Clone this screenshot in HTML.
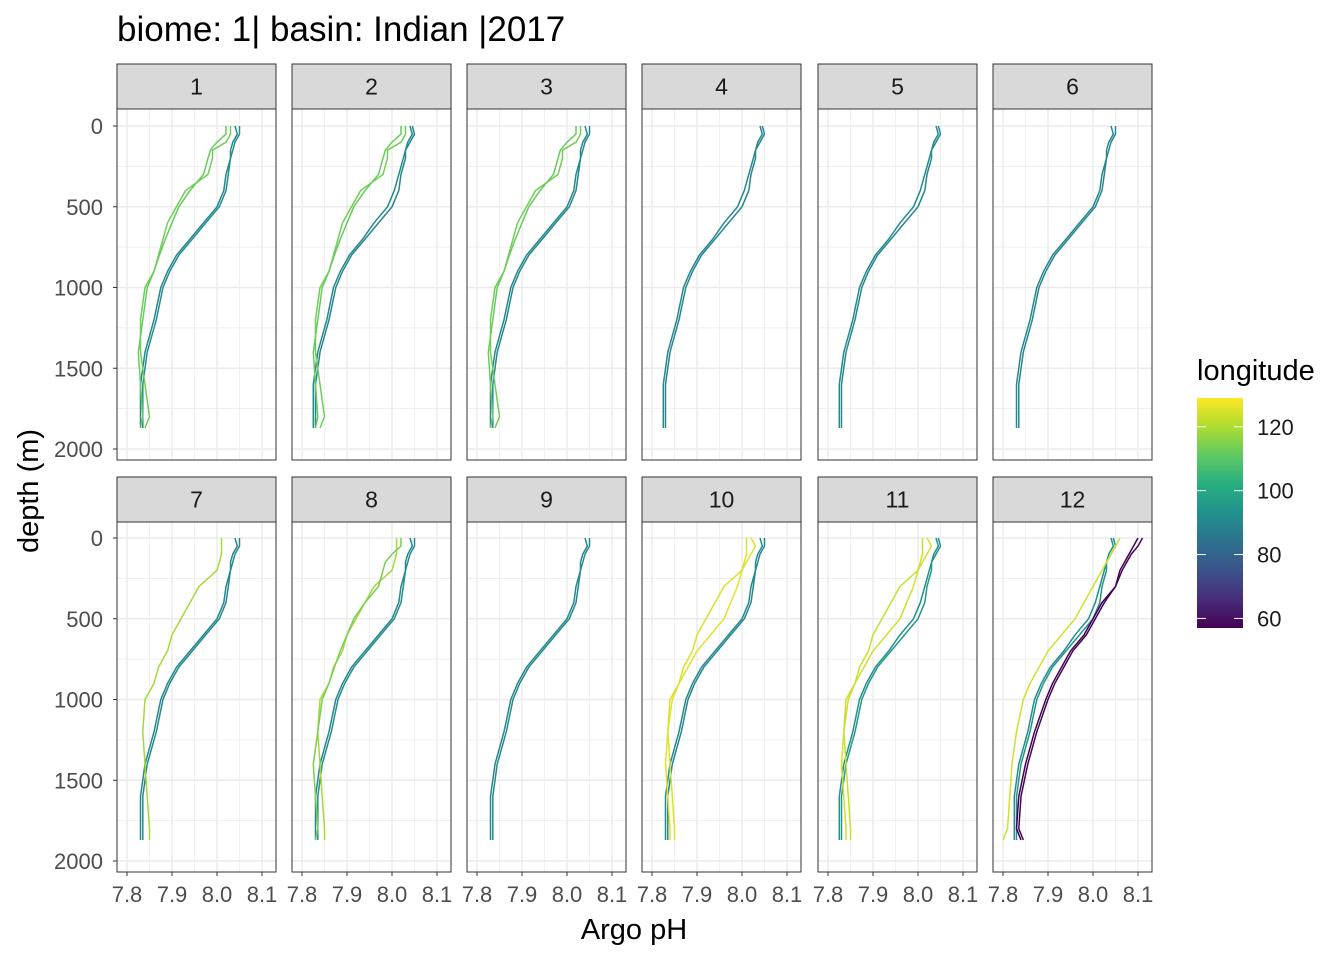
<!DOCTYPE html>
<html><head><meta charset="utf-8">
<style>
body{margin:0;background:#fff;}
svg text{font-family:"Liberation Sans",sans-serif;}
</style></head>
<body>
<svg id="chart" width="1344" height="960" viewBox="0 0 1344 960" xmlns="http://www.w3.org/2000/svg">
<defs>
<linearGradient id="vir" x1="0" y1="1" x2="0" y2="0">
<stop offset="0" stop-color="#440154"/><stop offset="0.125" stop-color="#472d7b"/><stop offset="0.25" stop-color="#3b528b"/><stop offset="0.375" stop-color="#2c728e"/><stop offset="0.5" stop-color="#21918c"/><stop offset="0.625" stop-color="#28ae80"/><stop offset="0.75" stop-color="#5ec962"/><stop offset="0.875" stop-color="#addc30"/><stop offset="1" stop-color="#fde725"/>
</linearGradient>
</defs>
<text x="117" y="41" font-size="35" fill="#000">biome: 1| basin: Indian |2017</text>
<text x="634" y="939" font-size="29" text-anchor="middle" fill="#000">Argo pH</text>
<text transform="translate(38,491) rotate(-90)" font-size="29" text-anchor="middle" fill="#000">depth (m)</text>
<g id="panels"></g>
<g>
<text x="1197" y="380" font-size="29" fill="#000">longitude</text>
<rect x="1197" y="398" width="46" height="230" fill="url(#vir)"/>
<g id="legticks"></g>
</g>
</svg>
<script>
const depthLevels=[0,50,100,150,200,300,400,500,600,700,800,900,1000,1200,1400,1600,1800,1870];
const T1=[8.04,8.045,8.035,8.03,8.03,8.02,8.015,8.0,7.97,7.94,7.91,7.89,7.875,7.86,7.84,7.83,7.83,7.83];
const T2=[8.05,8.05,8.04,8.035,8.03,8.025,8.02,8.005,7.975,7.945,7.915,7.895,7.88,7.865,7.845,7.835,7.835,7.835];
const T3=[8.045,8.05,8.04,8.03,8.025,8.015,8.005,7.99,7.96,7.935,7.905,7.885,7.87,7.855,7.835,7.825,7.825,7.825];
const G1=[8.03,8.03,8.02,7.99,7.99,7.98,7.93,7.91,7.89,7.88,7.87,7.86,7.84,7.83,7.83,7.84,7.85,7.84];
const G2=[8.02,8.02,8.0,7.985,7.98,7.97,7.94,7.915,7.9,7.885,7.872,7.86,7.845,7.835,7.825,7.83,7.835,7.83];
const Y1=[8.01,8.01,8.01,8.005,8.0,7.96,7.94,7.92,7.9,7.89,7.87,7.86,7.84,7.835,7.84,7.845,7.85,7.85];
const Y2=[8.02,8.03,8.02,8.01,8.0,7.99,7.975,7.96,7.93,7.9,7.88,7.86,7.845,7.835,7.83,7.835,7.84,7.84];
const Y3=[8.06,8.05,8.04,8.03,8.02,8.0,7.98,7.96,7.93,7.9,7.88,7.86,7.845,7.83,7.82,7.815,7.81,7.80];
const P1=[8.1,8.09,8.08,8.07,8.06,8.05,8.02,8.0,7.98,7.95,7.93,7.91,7.895,7.87,7.85,7.835,7.83,7.84];
const P2=[8.11,8.1,8.085,8.075,8.065,8.05,8.025,8.005,7.985,7.955,7.935,7.915,7.9,7.875,7.855,7.84,7.835,7.845];
const panelProfiles=[
 [["T1",90],["T2",92],["G1",113],["G2",112]],
 [["T1",90],["T3",91],["G1",113],["G2",112]],
 [["T1",90],["T2",91],["G2",112],["G1",113]],
 [["T1",90],["T3",90]],
 [["T1",90],["T3",91]],
 [["T1",90],["T2",90]],
 [["T1",90],["T2",91],["Y1",119]],
 [["T1",90],["T2",92],["Y1",119],["G2",114]],
 [["T1",90],["T2",91]],
 [["T1",91],["T2",90],["Y2",126],["Y1",125]],
 [["T1",95],["T3",93],["Y2",124],["Y1",123]],
 [["T3",92],["T1",94],["Y3",124],["P1",57],["P2",58]]
];
const series={T1,T2,T3,G1,G2,Y1,Y2,Y3,P1,P2};
const xTicks=[7.8,7.9,8.0,8.1];
const yTicks=[0,500,1000,1500,2000];
const legendTicks=[60,80,100,120];
const lonMin=57,lonMax=129;

const NS="http://www.w3.org/2000/svg";
function el(tag,attrs,parent){const e=document.createElementNS(NS,tag);for(const k in attrs)e.setAttribute(k,attrs[k]);parent.appendChild(e);return e;}
const vir=["#440154","#472d7b","#3b528b","#2c728e","#21918c","#28ae80","#5ec962","#addc30","#fde725"];
function hex(h){return [1,3,5].map(i=>parseInt(h.substr(i,2),16));}
function color(lon){let t=Math.max(0,Math.min(1,(lon-lonMin)/(lonMax-lonMin)))*8;let i=Math.min(7,Math.floor(t)),f=t-i;const a=hex(vir[i]),b=hex(vir[i+1]);return "rgb("+a.map((v,k)=>Math.round(v+(b[k]-v)*f)).join(",")+")";}
const colX=[117,292,467,642,818,993],pw=159;
const rows=[{st:64,top:109,bot:460,y0:126},{st:477,top:522,bot:872,y0:538}];
const pxPerM=0.1615,pxPerPh=450;
const g=document.getElementById("panels");
panelProfiles.forEach((profs,pi)=>{
 const r=rows[Math.floor(pi/6)],px=colX[pi%6];
 const xs=v=>px+10+(v-7.8)*pxPerPh, ys=d=>r.y0+d*pxPerM;
 const pg=el("g",{},g);
 
 
 const strip=el("rect",{x:px,y:r.st,width:pw,height:r.top-r.st,fill:"#d9d9d9",stroke:"#333","stroke-width":1},pg);
 
 
 const st=el("text",{x:px+pw/2,y:(r.st+r.top)/2+8,"font-size":23,"text-anchor":"middle",fill:"#1a1a1a"},pg);
 st.textContent=String(pi+1);
 
 
 el("rect",{x:px,y:r.top,width:pw,height:r.bot-r.top,fill:"#fff"},pg);
 for(let v=7.75;v<=8.15;v+=0.05){const x=xs(v);if(x<px||x>px+pw)continue;const maj=Math.abs(v*10-Math.round(v*10))<0.01;el("line",{x1:x,x2:x,y1:r.top,y2:r.bot,stroke:"#ebebeb","stroke-width":maj?1.4:0.7},pg);}
 for(let d=-250;d<=2250;d+=250){const y=ys(d);if(y<r.top||y>r.bot)continue;el("line",{x1:px,x2:px+pw,y1:y,y2:y,stroke:"#ebebeb","stroke-width":d%500===0?1.4:0.7},pg);}
 profs.forEach(([name,lon])=>{
  const vals=series[name];
  const pts=vals.map((v,i)=>xs(v).toFixed(1)+","+ys(depthLevels[i]).toFixed(1)).join(" ");
  const pl=el("polyline",{points:pts,fill:"none",stroke:color(lon),"stroke-width":1.5},pg);
  
  
 });
 el("rect",{x:px,y:r.top,width:pw,height:r.bot-r.top,fill:"none",stroke:"#333","stroke-width":1},pg);
 if(pi%6===0){yTicks.forEach(d=>{const y=ys(d);el("line",{x1:px-4,x2:px,y1:y,y2:y,stroke:"#333"},pg);const t=el("text",{x:px-14,y:y+8,"font-size":22,"text-anchor":"end",fill:"#4d4d4d"},pg);t.textContent=d;});}
 if(pi>=6){xTicks.forEach(v=>{const x=xs(v);el("line",{x1:x,x2:x,y1:r.bot,y2:r.bot+4,stroke:"#333"},pg);const t=el("text",{x:x,y:r.bot+30,"font-size":22,"text-anchor":"middle",fill:"#4d4d4d"},pg);t.textContent=v.toFixed(1);});}
});
const lg=document.getElementById("legticks");
legendTicks.forEach(l=>{const y=628-(l-lonMin)/(lonMax-lonMin)*230;
 el("line",{x1:1197,x2:1206,y1:y,y2:y,stroke:"#fff"},lg);el("line",{x1:1234,x2:1243,y1:y,y2:y,stroke:"#fff"},lg);
 const t=el("text",{x:1257,y:y+8,"font-size":22,fill:"#1a1a1a"},lg);t.textContent=l;
 
 
});
</script>
</body></html>
